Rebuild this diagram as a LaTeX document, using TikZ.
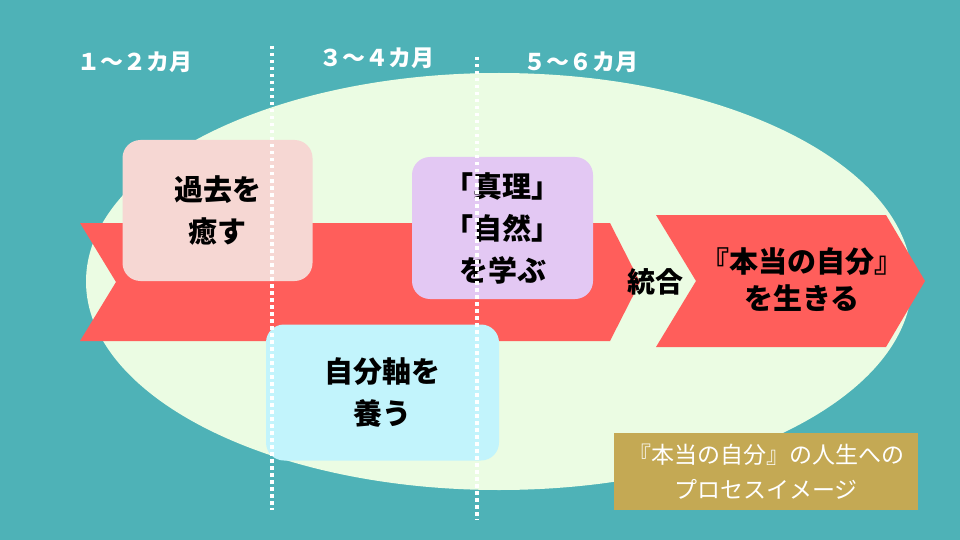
\documentclass[tikz,border=0pt]{standalone}
\usepackage{fontspec}
\setmainfont{Noto Sans CJK JP}
\usetikzlibrary{positioning}

\definecolor{bgteal}{RGB}{78,178,183}
\definecolor{ovalgreen}{RGB}{235,252,227}
\definecolor{bandred}{RGB}{255,94,91}
\definecolor{heal}{RGB}{246,215,211}
\definecolor{learn}{RGB}{227,200,243}
\definecolor{axis}{RGB}{194,244,252}
\definecolor{gold}{RGB}{196,169,84}

\tikzset{
  stagebox/.style={rounded corners=18pt, inner sep=0pt, align=center,
    font=\fontsize{29}{42}\selectfont\bfseries},
  period/.style={text=white, font=\fontsize{23}{26}\selectfont\bfseries},
  divider/.style={white, line width=3.5pt, dash pattern=on 3.5pt off 3.5pt}
}

\begin{document}
\begin{tikzpicture}[x=1pt, y=-1pt]
            % background and oval
                \useasboundingbox (0,0) rectangle (960,540);
                \fill[bgteal] (0,0) rectangle (960,540);
                \fill[ovalgreen] (499,281.5) ellipse [x radius=413, y radius=208.5];

            % draw arrow band and goal chevron
                \fill[bandred] (80,223) -- (610,223) -- (640,282) -- (610,341)
                    -- (80,341) -- (116,282) -- cycle;
                \fill[bandred] (656,215) -- (886,215) -- (925,281) -- (886,347)
                    -- (656,347) -- (696,281) -- cycle;

            % stage boxes
                \node[stagebox, fill=heal, minimum width=190pt, minimum height=141pt]
                    (heal) at (217.5,210.5) {過去を\\癒す};
                \node[stagebox, fill=learn, minimum width=181pt, minimum height=142pt]
                    (learn) at (502.5,228) {「真理」\\「自然」\\を学ぶ};
                \node[stagebox, fill=axis, minimum width=233pt, minimum height=136pt]
                    (axis) at (382.5,392.5) {自分軸を\\養う};

            % period dividers
                \coordinate (div1top) at (272,46);
                \coordinate (div1bot) at (272,510);
                \coordinate (div2top) at (477,57);
                \coordinate (div2bot) at (477,520);
                \draw[divider] (div1top) -- (div1bot);
                \draw[divider] (div2top) -- (div2bot);

            % period labels
                \node[period] (month12) at (135,62) {１～２カ月};
                \node[period] (month34) at (377,58) {３～４カ月};
                \node[period] (month56) at (581,62) {５～６カ月};

            % goal
                \node[font=\fontsize{28}{30}\selectfont\bfseries] (merge) at (655,282) {統合};
                \node[align=center, font=\fontsize{29}{37}\selectfont\bfseries]
                    (goal) at (802,280) {『本当の自分』\\を生きる};

            % caption
                \node[fill=gold, text=white, align=center, inner sep=0pt,
                    minimum width=304pt, minimum height=77pt,
                    font=\fontsize{23}{35}\selectfont]
                    (caption) at (766,471.5) {『本当の自分』の人生への\\プロセスイメージ};
            \end{tikzpicture}
\end{document}
